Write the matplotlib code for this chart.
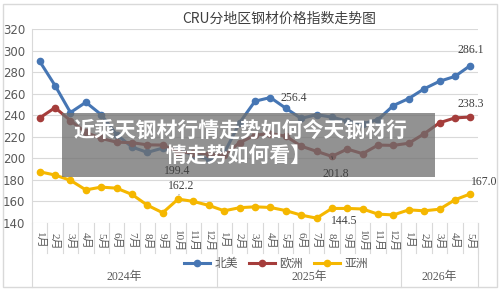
import matplotlib
matplotlib.use("Agg")
import matplotlib.pyplot as plt
from matplotlib.patches import Rectangle
import matplotlib.transforms as mtransforms

plt.rcParams['font.family'] = ['Noto Sans CJK SC', 'DejaVu Sans']

# data
years = ["2024年", "2025年", "2026年"]
months_per_year = [12, 12, 5]
month_labels = [f"{m}月" for m in range(1, 13)] * 2 + [f"{m}月" for m in range(1, 6)]

north_america = [290, 267.5, 242.5, 252, 240.5, 222, 210.5, 205.5, 209.5, 208, 203, 199.4,
                 205, 233, 253, 256.4, 246.5, 237, 240.5, 238.2, 234.5, 232, 236, 249,
                 255.5, 264.5, 271.5, 276, 286.1]
europe = [237.5, 247, 235, 224, 218.5, 215, 214.5, 212.5, 212.3, 206, 205, 204,
          203, 214.5, 221.5, 223, 220.6, 211.3, 206.5, 201.8, 208.6, 204.3, 212.3, 212,
          214, 222.8, 233, 237.5, 238.3]
asia = [187.5, 184.5, 179.6, 170.7, 173.3, 172.3, 166.5, 156.5, 149.5, 162.2, 160, 156.3,
        151.3, 154.2, 155, 154.4, 151.5, 147.3, 144.5, 153.5, 153.5, 153, 148.2, 147.5,
        152.2, 151.3, 152.8, 161.5, 167.0]
series_names = ["北美", "欧洲", "亚洲"]
colors = ["#4676b4", "#a53d3b", "#f5b700"]

x = list(range(len(month_labels)))

fig = plt.figure(figsize=(5, 2.91), dpi=100)
fig.patches.append(Rectangle((3 / 500, 4 / 291), 494 / 500, 283 / 291, transform=fig.transFigure,
                             fill=False, edgecolor="#d9d9d9", linewidth=1))

ax = fig.add_axes([0.064, 0.2337, 0.892, 0.6667])
ax.set_xlim(-0.5, len(x) - 0.5)
ax.set_ylim(140, 320)
ax.set_yticks(range(140, 321, 20))
ax.grid(axis="y", color="#d9d9d9", linewidth=0.8)
ax.set_axisbelow(True)
for s in ["top", "right", "bottom"]:
    ax.spines[s].set_visible(False)
ax.spines["left"].set_color("#d9d9d9")
ax.tick_params(axis="y", length=0, labelsize=8.5, labelcolor="#595959", pad=5)
ax.tick_params(axis="x", length=0)
for lab in ax.get_yticklabels():
    lab.set_fontfamily("DejaVu Sans")
ax.set_xticks(x)
ax.set_xticklabels([])

handles = []
for vals, name, c in zip([north_america, europe, asia], series_names, colors):
    h, = ax.plot(x, vals, color=c, linewidth=2.2, marker="o", markersize=4.5, label=name, zorder=3)
    handles.append(h)

# category labels under the axis
trans = mtransforms.blended_transform_factory(ax.transData, ax.transAxes)
for i, lab in enumerate(month_labels):
    ax.text(i, -0.092, lab, transform=trans, rotation=-90, ha="center", va="center",
            fontsize=8, color="#595959", family=["Liberation Serif", "Noto Sans CJK SC"])
for i in range(len(x) + 1):
    ax.plot([i - 0.5, i - 0.5], [0, -0.155], transform=trans, color="#d9d9d9",
            linewidth=0.8, clip_on=False)
start = 0
for yr, n in zip(years, months_per_year):
    ax.plot([start - 0.5, start - 0.5], [0, -0.33], transform=trans, color="#d9d9d9",
            linewidth=0.8, clip_on=False)
    ax.text(start + (n - 1) / 2, -0.28, yr, transform=trans, ha="center", va="center",
            fontsize=8.5, color="#595959", family=["Liberation Serif", "Noto Sans CJK SC"])
    start += n
ax.plot([start - 0.5, start - 0.5], [0, -0.33], transform=trans, color="#d9d9d9",
        linewidth=0.8, clip_on=False)

# grey caption band across the chart (under the data labels)
ax.add_patch(Rectangle((62 / 500, 1 - 177 / 291), 373 / 500, 64 / 291, transform=fig.transFigure,
                       facecolor="#6e6e6e", alpha=0.75, edgecolor="none", zorder=5, clip_on=False))
ax.text(0.481, 1 - 130 / 291, "近乘天钢材行情走势如何今天钢材行", transform=fig.transFigure,
        ha="center", va="center", fontsize=15, color="white", fontweight="bold", zorder=6)
ax.text(0.478, 1 - 156 / 291, "情走势如何看】", transform=fig.transFigure,
        ha="center", va="center", fontsize=15, color="white", fontweight="bold", zorder=6)

# data labels
lab_font = dict(fontsize=8.5, color="#404040", family="Liberation Serif", zorder=7)
ax.annotate(f"{north_america[-1]:.1f}", (x[-1], north_america[-1]), xytext=(0, 7),
            textcoords="offset points", ha="center", va="bottom", **lab_font)
ax.annotate(f"{europe[-1]:.1f}", (x[-1], europe[-1]), xytext=(0, 5),
            textcoords="offset points", ha="center", va="bottom", **lab_font)
ax.annotate(f"{asia[-1]:.1f}", (x[-1], asia[-1]), xytext=(10, 4),
            textcoords="offset points", ha="center", va="bottom", **lab_font)
i_na = north_america.index(256.4)
ax.annotate("256.4", (x[i_na], 256.4), xytext=(7, 0),
            textcoords="offset points", ha="left", va="center", **lab_font)
i_na_min = north_america.index(199.4)
ax.annotate("199.4", (x[i_na_min], 199.4), xytext=(-23, -9),
            textcoords="offset points", ha="center", va="center", **lab_font)
i_as = asia.index(162.2)
ax.annotate("162.2", (x[i_as], 162.2), xytext=(2, 9.5),
            textcoords="offset points", ha="center", va="center",
            arrowprops=dict(arrowstyle="-", color="#404040", lw=0.6, shrinkA=5, shrinkB=3), **lab_font)
i_eu = europe.index(201.8)
ax.annotate("201.8", (x[i_eu], 201.8), xytext=(3, -13),
            textcoords="offset points", ha="center", va="center",
            arrowprops=dict(arrowstyle="-", color="#404040", lw=0.6, shrinkA=5, shrinkB=3), **lab_font)
i_as_min = asia.index(144.5)
ax.annotate("144.5", (x[i_as_min], 144.5), xytext=(20, -2),
            textcoords="offset points", ha="center", va="center", **lab_font)

fig.legend(handles=handles, loc="center", bbox_to_anchor=(0.552, 1 - 264 / 291), ncol=3,
           frameon=False, fontsize=8.5, handlelength=2.2, columnspacing=0.9, handletextpad=0.4,
           labelcolor="#595959")

fig.text(0.558, 1 - 19 / 291, "CRU分地区钢材价格指数走势图", ha="center", va="center",
         fontsize=10, color="#404040")

fig.savefig("out.png", dpi=100)
